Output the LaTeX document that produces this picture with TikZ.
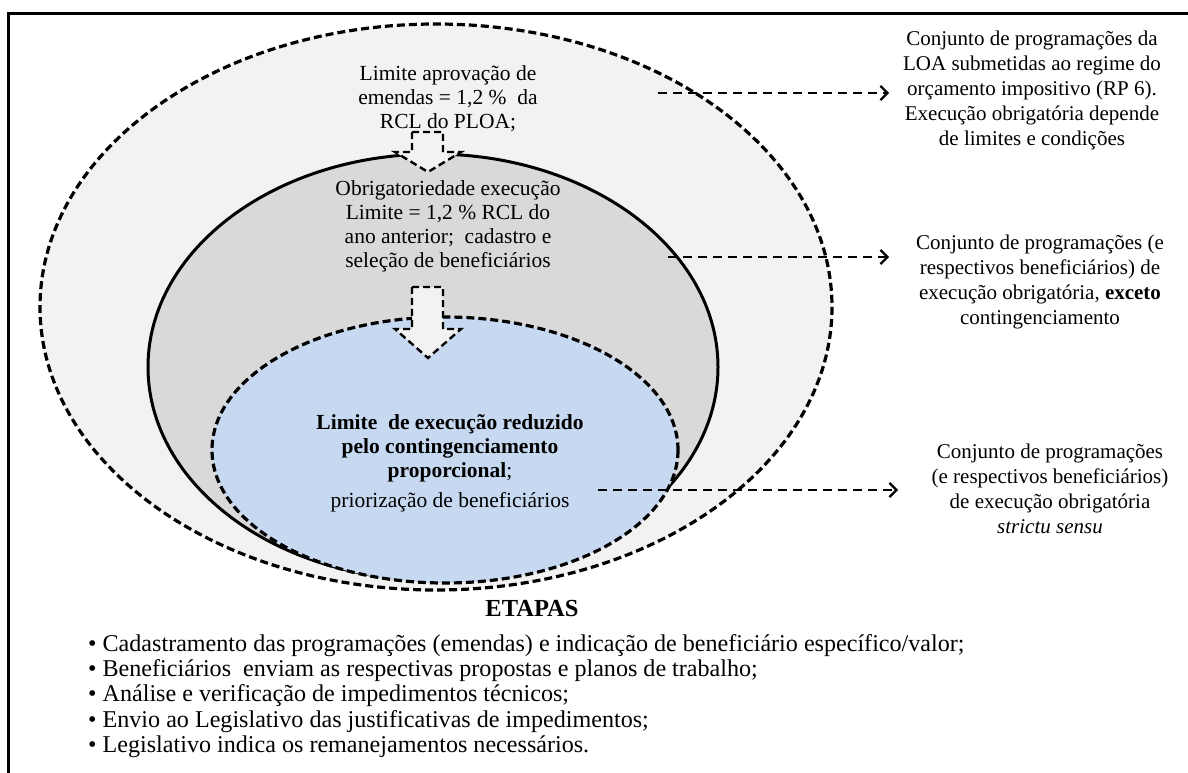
\documentclass[tikz,border=0pt]{standalone}
\usepackage{fontspec}
\setmainfont{Liberation Serif}
\usetikzlibrary{arrows.meta}
\definecolor{outerfill}{HTML}{F2F2F2}
\definecolor{midfill}{HTML}{D9D9D9}
\definecolor{innerfill}{HTML}{C6D9F1}
\begin{document}
\begin{tikzpicture}[x=1pt,y=-1pt,
  txt/.style={align=center, font=\fontsize{21.5}{24}\selectfont, inner sep=0pt},
  sidetxt/.style={align=center, font=\fontsize{21}{25}\selectfont, inner sep=0pt},
  link/.style={line width=2.4pt, dash pattern=on 9pt off 6pt,
    -{Straight Barb[length=7pt,width=14pt,line width=2.2pt]}},
  blockarrow/.style={line width=2.4pt, dash pattern=on 7pt off 4pt, fill=outerfill},
  ringdash/.style={line width=3.2pt, dash pattern=on 8pt off 4pt},
]
\useasboundingbox (0,0) rectangle (1188,773);
% frame
\draw[line width=3pt] (8,773) -- (8,14) -- (1188,14);

% nested ellipses
\draw[ringdash, fill=outerfill] (436,307) ellipse [x radius=396, y radius=283];
\draw[line width=3pt, fill=midfill] (433,367) ellipse [x radius=285, y radius=213];
\draw[ringdash, fill=innerfill] (445,450) ellipse [x radius=233, y radius=133];

% block arrows between the levels
\draw[blockarrow] (412,132) -- (443,132) -- (443,152) -- (461,152) -- (428,172)
  -- (395,152) -- (412,152) -- cycle;
\draw[blockarrow] (412,287) -- (443,287) -- (443,329) -- (461,329) -- (428,358)
  -- (395,329) -- (412,329) -- cycle;

% texts inside the ellipses
\node[txt] (ttop) at (448,99) {Limite aprovação de\\emendas = 1,2 \%\ \ da\\RCL do PLOA;};
\node[txt] (tmid) at (448,226) {Obrigatoriedade execução\\Limite = 1,2 \% RCL\ do\\ano anterior;\ \ cadastro e\\seleção de beneficiários};
\node[txt] (tin) at (450,463) {\textbf{Limite\ \ de execução reduzido}\\\textbf{pelo contingenciamento}\\\textbf{proporcional};\\[6pt]priorização de beneficiários};

% descriptions on the right
\node[sidetxt] (r1) at (1032,90) {Conjunto de programações da\\LOA submetidas ao regime do\\orçamento impositivo (RP 6).\\Execução obrigatória depende\\de limites e condições};
\node[sidetxt] (r2) at (1040,282) {Conjunto de programações (e\\respectivos beneficiários) de\\execução obrigatória, \textbf{exceto}\\contingenciamento};
\node[sidetxt] (r3) at (1050,489) {Conjunto de programações\\(e respectivos beneficiários)\\de execução obrigatória\\\textit{strictu sensu}};

% connectors
\coordinate (s1) at (658,93);  \coordinate (e1) at (889,93);
\coordinate (s2) at (668,257); \coordinate (e2) at (889,257);
\coordinate (s3) at (598,490); \coordinate (e3) at (898,490);
\draw[link] (s1) -- (e1);
\draw[link] (s2) -- (e2);
\draw[link] (s3) -- (e3);

% stages
\node[font=\fontsize{24.5}{28}\selectfont\bfseries, inner sep=0pt] (etapas) at (532,609) {ETAPAS};
\node[anchor=north west, align=left, inner sep=0pt,
  font=\fontsize{24.1}{25.3}\selectfont] (list) at (88,634)
  {• Cadastramento das programações (emendas) e indicação de beneficiário específico/valor;\\
   • Beneficiários\ \ enviam as respectivas propostas e planos de trabalho;\\
   • Análise e verificação de impedimentos técnicos;\\
   • Envio ao Legislativo das justificativas de impedimentos;\\
   • Legislativo indica os remanejamentos necessários.};
\end{tikzpicture}
\end{document}
